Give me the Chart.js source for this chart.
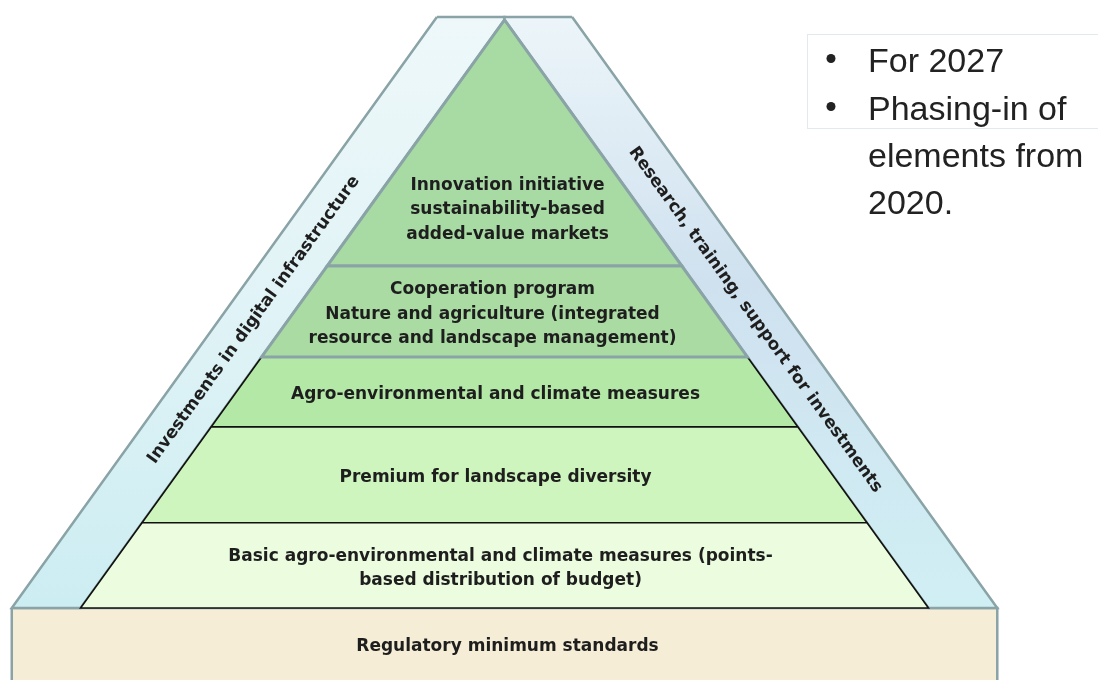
<!DOCTYPE html>
<html>
<head>
<meta charset="utf-8">
<script src="https://cdn.jsdelivr.net/npm/chart.js@4.4.1/dist/chart.umd.min.js"></script>
<style>
  html, body { margin: 0; padding: 0; background: #fff; }
  #wrap { width: 1098px; height: 680px; }
</style>
</head>
<body>
<div id="wrap"><canvas id="pyramid"></canvas></div>
<script>
// pyramid tiers, bottom to top (base rectangle first)
var tierNames = [
  ["Regulatory minimum standards"],
  ["Basic agro-environmental and climate measures (points-", "based distribution of budget)"],
  ["Premium for landscape diversity"],
  ["Agro-environmental and climate measures"],
  ["Cooperation program", "Nature and agriculture (integrated", "resource and landscape management)"],
  ["Innovation initiative", "sustainability-based", "added-value markets"]
];
// tier boundaries as % of pyramid height (0 = base line, 100 = apex)
var tierLevels = [0, 14.5, 30.8, 42.7, 58.2, 100];
var sideLabels = ["Investments in digital infrastructure", "Research, training, support for investments"];
var noteLines = [["For 2027"], ["Phasing-in of", "elements from", "2020."]];

// geometry of the drawing (same unit on both axes)
var baseHalf = 72.1;       // half width of the pyramid at level 0
var frameBaseHalf = 83.8;  // outer frame half width at level 0
var frameTopHalf = 11.5;   // outer frame half width at its top
var frameTopLevel = 100.5;
var floorLevel = -14;

var tierFill = ['#f5edd6', '#ebfdde', '#cef5be', '#b4e8a6', '#a9dba3', '#a8dba4'];
var gray = '#8aa3a6';
var ink = '#1e1e1e';
var labelDx = [3, -4, -9, -9, -12, 3];

function halfAt(level) {
  return baseHalf * (1 - level / 100);
}

function tierPoints(lo, hi, open) {
  var pts = [
    {x: -halfAt(hi), y: hi},
    {x: -halfAt(lo), y: lo},
    {x: halfAt(lo), y: lo},
    {x: halfAt(hi), y: hi}
  ];
  if (!open) pts.push({x: -halfAt(hi), y: hi});
  return pts;
}

function vGradient(stops) {
  return function(c) {
    var area = c.chart.chartArea;
    if (!area) return stops[0][1];
    var y = c.chart.scales.y;
    var g = c.chart.ctx.createLinearGradient(0, y.getPixelForValue(frameTopLevel), 0, y.getPixelForValue(0));
    stops.forEach(function(s) { g.addColorStop(s[0], s[1]); });
    return g;
  };
}

function shape(points, fillColor, border, width, order) {
  return {
    data: points,
    fill: 'shape',
    backgroundColor: fillColor,
    borderColor: border,
    borderWidth: width,
    pointRadius: 0,
    tension: 0,
    order: order
  };
}

var datasets = [];
// base rectangle
datasets.push(shape([
  {x: -frameBaseHalf, y: 0}, {x: frameBaseHalf, y: 0},
  {x: frameBaseHalf, y: floorLevel}, {x: -frameBaseHalf, y: floorLevel},
  {x: -frameBaseHalf, y: 0}
], tierFill[0], gray, 2.5, 20));
// side bands
datasets.push(shape([
  {x: -frameTopHalf, y: frameTopLevel}, {x: 0, y: frameTopLevel}, {x: 0, y: 100},
  {x: -baseHalf, y: 0}, {x: -frameBaseHalf, y: 0}, {x: -frameTopHalf, y: frameTopLevel}
], vGradient([[0, '#eef8fa'], [0.5, '#e0f3f6'], [1, '#ccedf2']]), gray, 2.5, 19));
datasets.push(shape([
  {x: frameTopHalf, y: frameTopLevel}, {x: 0, y: frameTopLevel}, {x: 0, y: 100},
  {x: baseHalf, y: 0}, {x: frameBaseHalf, y: 0}, {x: frameTopHalf, y: frameTopLevel}
], vGradient([[0, '#ecf5f9'], [0.45, '#cfe1ef'], [1, '#d0eff4']]), gray, 2.5, 18));
// pyramid tiers
for (var i = 1; i < tierNames.length; i++) {
  var upper = i >= 4;
  datasets.push(shape(
    tierPoints(tierLevels[i - 1], tierLevels[i], !upper),
    tierFill[i],
    upper ? gray : '#111',
    upper ? 3 : 1.6,
    18 - i
  ));
}

var labelPlugin = {
  id: 'pyramidLabels',
  afterDatasetsDraw: function(chart) {
    var ctx = chart.ctx;
    var x = chart.scales.x, y = chart.scales.y;
    var lh = 24.5;
    ctx.save();
    ctx.fillStyle = ink;
    ctx.font = 'bold 17px "DejaVu Sans"';
    ctx.textAlign = 'center';
    ctx.textBaseline = 'middle';
    tierNames.forEach(function(lines, i) {
      var lo = i === 0 ? y.min : tierLevels[i - 1];
      var hi = i === 0 ? 0 : tierLevels[i];
      var mid = i === tierNames.length - 1 ? lo + (hi - lo) * 0.24 : (lo + hi) / 2;
      var py = y.getPixelForValue(mid) + 3;
      var px = x.getPixelForValue(0) + labelDx[i];
      lines.forEach(function(t, k) {
        ctx.fillText(t, px, py + (k - (lines.length - 1) / 2) * lh);
      });
    });

    // labels along the side bands
    var bx = x.getPixelForValue(-baseHalf), by = y.getPixelForValue(0);
    var ax = x.getPixelForValue(0), ay = y.getPixelForValue(100);
    var ang = Math.atan2(by - ay, ax - bx);
    var lvl = 49;
    var outer = frameBaseHalf - (frameBaseHalf - frameTopHalf) * lvl / frameTopLevel;
    var midHalf = (outer + halfAt(lvl)) / 2;
    [-1, 1].forEach(function(side, k) {
      ctx.save();
      ctx.translate(x.getPixelForValue(side * midHalf), y.getPixelForValue(lvl));
      ctx.rotate(side * ang);
      ctx.fillText(sideLabels[k], 0, 0);
      ctx.restore();
    });

    // note box at the top right
    var left = chart.chartArea.left + 807, top = chart.chartArea.top + 34;
    ctx.strokeStyle = '#e1ebee';
    ctx.lineWidth = 1;
    ctx.strokeRect(left + 0.5, top + 0.5, 400, 94);
    ctx.fillStyle = '#222';
    ctx.font = '34px "Liberation Sans"';
    ctx.textAlign = 'left';
    ctx.textBaseline = 'alphabetic';
    var base = top + 38;
    noteLines.forEach(function(lines) {
      ctx.beginPath();
      ctx.arc(left + 24, base - 13.5, 4.5, 0, Math.PI * 2);
      ctx.fill();
      lines.forEach(function(t) {
        ctx.fillText(t, left + 61, base);
        base += 47;
      });
      base += 1;
    });
    ctx.restore();
  }
};

new Chart(document.getElementById('pyramid'), {
  type: 'line',
  data: {datasets: datasets},
  options: {
    responsive: true,
    maintainAspectRatio: false,
    animation: false,
    events: [],
    layout: {padding: 0},
    plugins: {legend: {display: false}, tooltip: {enabled: false}},
    scales: {
      x: {type: 'linear', min: -85.8, max: 100.93, display: false},
      y: {type: 'linear', min: -12.24, max: 103.4, display: false}
    }
  },
  plugins: [labelPlugin]
});
</script>
</body>
</html>
